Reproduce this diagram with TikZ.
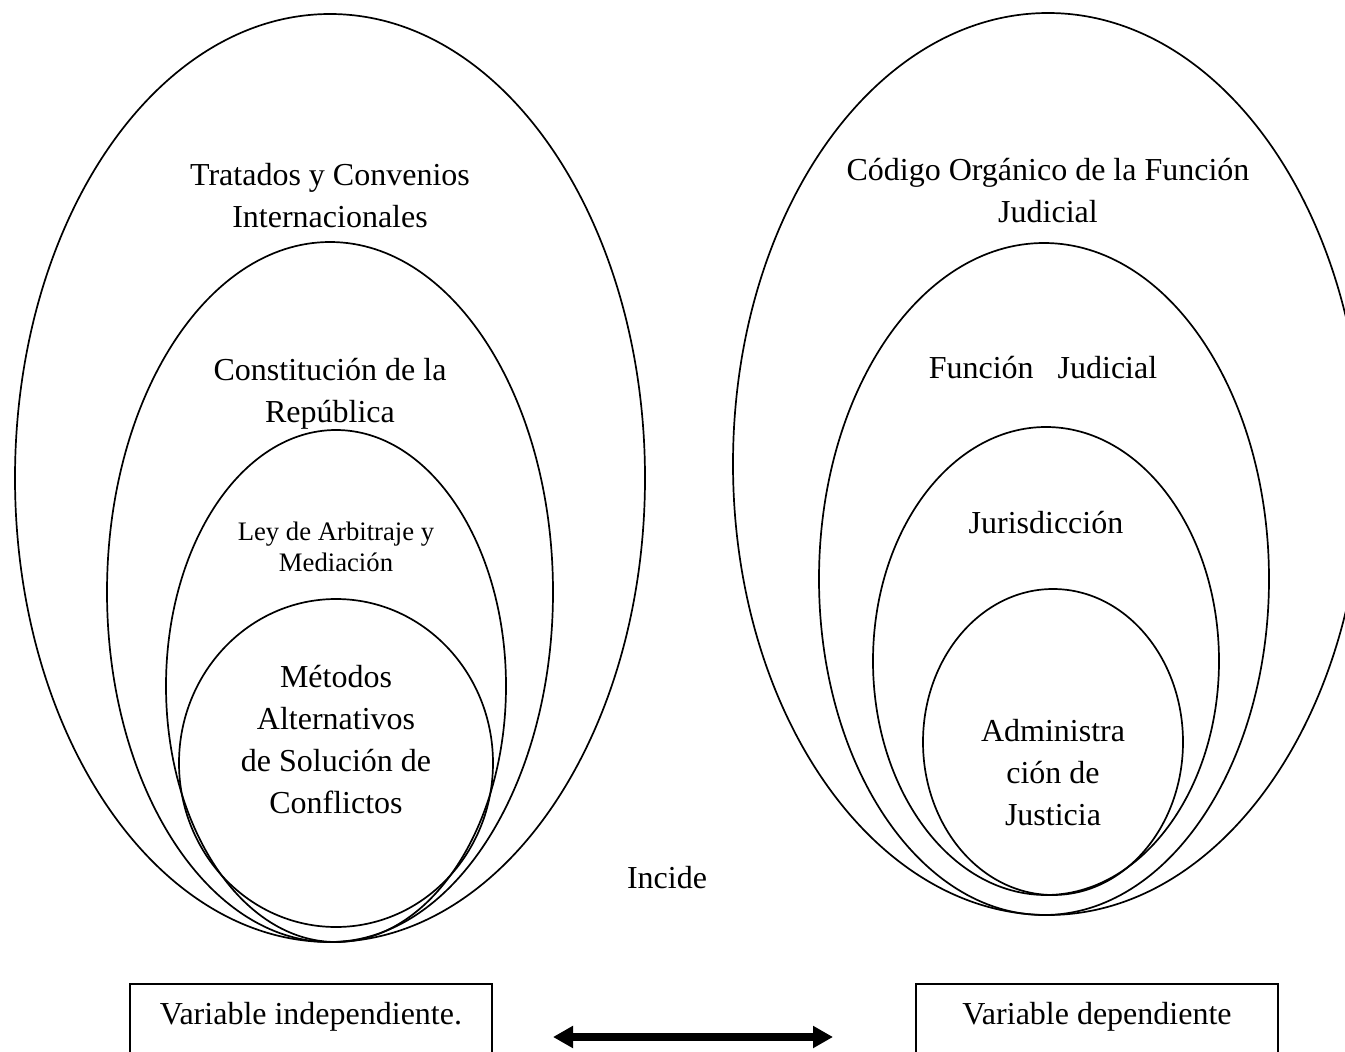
\documentclass[tikz,border=0pt]{standalone}
\usepackage{fontspec}
\setmainfont{Liberation Serif}
\usetikzlibrary{arrows.meta}

\tikzset{
  ring/.style={line width=1.7pt},
  lbl/.style={font=\fontsize{32}{42}\selectfont, align=center, inner sep=0pt},
  lblsmall/.style={font=\fontsize{26.7}{31}\selectfont, align=center, inner sep=0pt},
  varbox/.style={draw, line width=2.2pt, anchor=north, minimum width=362pt, inner xsep=0pt,
    inner ysep=16pt, text height=24pt, text depth=90pt, font=\fontsize{32}{42}\selectfont}
}

\begin{document}
\begin{tikzpicture}[x=1pt,y=-1pt]
  \clip (0,0) rectangle (1345,1052);

  \draw[ring] (330,478) ellipse [x radius=315pt, y radius=464pt];
  \draw[ring] (330,592) ellipse [x radius=223pt, y radius=350pt];
  \draw[ring] (336,686) ellipse [x radius=170pt, y radius=256pt];
  \draw[ring] (336,763) ellipse [x radius=157pt, y radius=164pt];

  \draw[ring] (1048,464) ellipse [x radius=315pt, y radius=451pt];
  \draw[ring] (1044,579) ellipse [x radius=225pt, y radius=336pt];
  \draw[ring] (1046,661) ellipse [x radius=173pt, y radius=234pt];
  \draw[ring] (1053,742) ellipse [x radius=130pt, y radius=153pt];

  \node[lbl] (tratados) at (330,196) {Tratados y Convenios\\Internacionales};
  \node[lbl] (constitucion) at (330,394) {Constitución de la\\República};
  \node[lblsmall] (ley) at (336,547) {Ley de Arbitraje y\\Mediación};
  \node[lbl] (metodos) at (336,740) {Métodos\\Alternativos\\de Solución de\\Conflictos};

  \node[lbl] (codigo) at (1048,191) {Código Orgánico de la Función\\Judicial};
  \node[lbl] (funcion) at (1043,368) {Función\ \ \ Judicial};
  \node[lbl] (jurisdiccion) at (1046,523) {Jurisdicción};
  \node[lbl] (administracion) at (1053,773) {Administra\\ción de\\Justicia};

  \node[lbl] (incide) at (667,878) {Incide};

  \node[varbox] (indep) at (311,983) {Variable independiente.};
  \node[varbox] (dep) at (1097,983) {Variable dependiente};

  \coordinate (al) at (553,1037);
  \coordinate (ar) at (833,1037);
  \draw[line width=7.5pt, {Triangle[length=20pt,width=21pt]}-{Triangle[length=20pt,width=21pt]}] (al) -- (ar);
\end{tikzpicture}
\end{document}
